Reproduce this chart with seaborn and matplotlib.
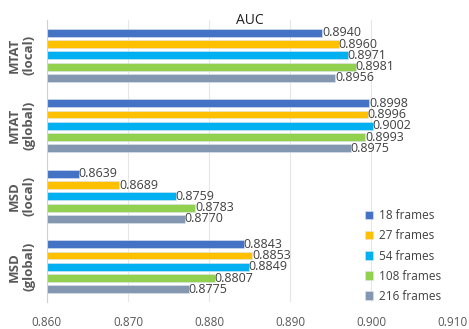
import pandas as pd
import matplotlib.pyplot as plt
import matplotlib.ticker as mticker
import seaborn as sns

# --- Data ---
datasets = ["MTAT\n(local)", "MTAT\n(global)", "MSD\n(local)", "MSD\n(global)"]
frames = ["18 frames", "27 frames", "54 frames", "108 frames", "216 frames"]
auc_18 = [0.8940, 0.8998, 0.8639, 0.8843]
auc_27 = [0.8960, 0.8996, 0.8689, 0.8853]
auc_54 = [0.8971, 0.9002, 0.8759, 0.8849]
auc_108 = [0.8981, 0.8993, 0.8783, 0.8807]
auc_216 = [0.8956, 0.8975, 0.8770, 0.8775]
x_ticks = [0.86, 0.87, 0.88, 0.89, 0.90, 0.91]

colors = ["#4472C4", "#FFC000", "#00B0F0", "#92D050", "#8497B0"]

# --- Long table for seaborn ---
rows = []
for fr, vals in zip(frames, [auc_18, auc_27, auc_54, auc_108, auc_216]):
    for ds, v in zip(datasets, vals):
        rows.append({"dataset": ds, "frames": fr, "auc": v})
df = pd.DataFrame(rows)

sns.set_style("white")
plt.rcParams['font.family'] = ['Open Sans', 'DejaVu Sans']

fig = plt.figure(figsize=(4.69, 3.29), dpi=100)
ax = fig.add_axes([0.100, 0.082, 0.864, 0.857])

sns.barplot(
    data=df, y="dataset", x="auc", hue="frames",
    order=datasets, hue_order=frames, palette=colors, saturation=1,
    orient="h", width=0.8, gap=0.3, errorbar=None,
    edgecolor="#dde4ee", linewidth=0.4, ax=ax,
)

# --- Value labels ---
for cont in ax.containers:
    ax.bar_label(cont, fmt="%.4f", padding=0, fontsize=9, color="#404040")

ax.set_xlim(0.86, 0.91)
ax.set_xticks(x_ticks)
ax.xaxis.set_major_formatter(mticker.FormatStrFormatter("%.3f"))
ax.grid(axis="x", color="#e6e6e6", linewidth=0.8)
ax.set_axisbelow(True)

ax.set_ylim(3.5, -0.5)
ax.set_yticks(range(len(datasets)))
ax.set_yticklabels(datasets, rotation=90, va="center", ha="center",
                   fontweight="bold", fontsize=9.5, color="#595959",
                   multialignment="center", linespacing=1.15)
ax.tick_params(axis="y", length=0, pad=18)
ax.set_yticks([-0.5, 0.5, 1.5, 2.5, 3.5], minor=True)
ax.tick_params(axis="y", which="minor", length=4, color="#d0d0d0", width=0.8)
ax.tick_params(axis="x", length=0, labelsize=8.5, labelcolor="#595959", pad=10)

for side in ["top", "right", "bottom"]:
    ax.spines[side].set_visible(False)
ax.spines["left"].set_color("#d0d0d0")
ax.spines["left"].set_linewidth(0.8)

ax.set_xlabel("")
ax.set_ylabel("")
ax.set_title("AUC", fontsize=10, color="#202020", pad=-3)

ax.legend(loc="lower right", bbox_to_anchor=(1.0, -0.04), frameon=False,
          fontsize=8.5, handlelength=0.7, handleheight=0.7,
          labelspacing=0.6, handletextpad=0.5, labelcolor="#404040")

fig.savefig("out.png", dpi=100)
